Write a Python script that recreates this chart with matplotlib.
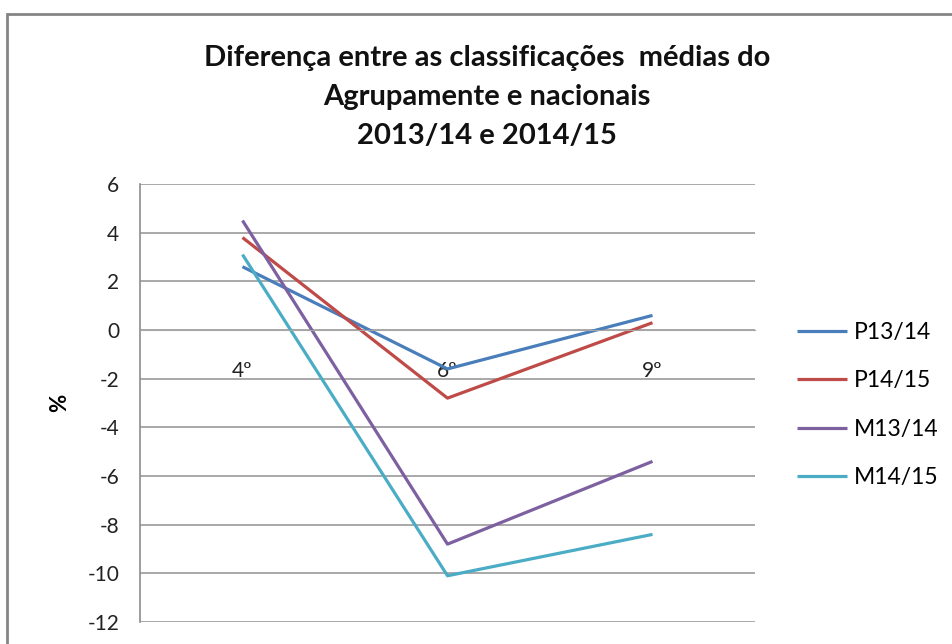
import matplotlib
matplotlib.use("Agg")
import matplotlib.pyplot as plt
from matplotlib.patches import Rectangle

plt.rcParams['font.family'] = ['Lato', 'DejaVu Sans']
plt.rcParams['axes.unicode_minus'] = False

# Difference (%) between school and national average grades
anos = ["4º", "6º", "9º"]
series = ["P13/14", "P14/15", "M13/14", "M14/15"]
p1314 = [2.6, -1.6, 0.6]
p1415 = [3.8, -2.8, 0.3]
m1314 = [4.5, -8.8, -5.4]
m1415 = [3.1, -10.1, -8.4]
valores = [p1314, p1415, m1314, m1415]
cores = ["#4A7EBB", "#BE4B48", "#7D60A0", "#4BACC6"]

fig = plt.figure(figsize=(9.53, 6.44), dpi=100)
ax = fig.add_axes([140 / 953, 1 - 622 / 644, 615 / 953, 438 / 644])

x = range(len(anos))
for nome, vals, cor in zip(series, valores, cores):
    ax.plot(x, vals, color=cor, lw=2.3, label=nome, solid_capstyle="butt")

ax.set_xlim(-0.5, 2.5)
ax.set_ylim(-12, 6)
ax.set_yticks(range(-12, 7, 2))
ax.set_xticks(list(x))
ax.set_xticklabels(anos)

# horizontal axis crosses at zero, like the spreadsheet default
ax.spines['bottom'].set_position(('data', 0))
ax.spines['bottom'].set_color("#A6A6A6")
ax.spines['top'].set_visible(False)
ax.spines['right'].set_visible(False)
ax.spines['left'].set_color("#8C8C8C")
ax.spines['left'].set_linewidth(1.2)

ax.yaxis.grid(True, color="#9A9A9A", lw=1.2)
ax.set_axisbelow(True)
ax.tick_params(axis='y', length=0, pad=15, labelsize=15, labelcolor="#222222")
ax.tick_params(axis='x', length=0, pad=22, labelsize=15, labelcolor="#222222")

ax.set_ylabel("%", fontsize=16, fontweight="bold", labelpad=12)

fig.text(487 / 953, 1 - 97 / 644,
         "Diferença entre as classificações  médias do\nAgrupamente e nacionais\n2013/14 e 2014/15",
         ha="center", va="center", fontsize=21, fontweight="bold",
         linespacing=1.6, color="#111111")

ax.legend(loc="center left", bbox_to_anchor=(797 / 953, 1 - 405 / 644),
          bbox_transform=fig.transFigure, frameon=False, fontsize=16.5,
          handlelength=2.2, handletextpad=0.3, labelspacing=1.2,
          borderpad=0, borderaxespad=0)

# chart area border
fig.patches.append(Rectangle((7 / 953, -0.1), 1.1, 1 - 14 / 644 + 0.1,
                             transform=fig.transFigure, fill=False,
                             edgecolor="#858585", lw=2))

fig.savefig("out.png", dpi=100)
